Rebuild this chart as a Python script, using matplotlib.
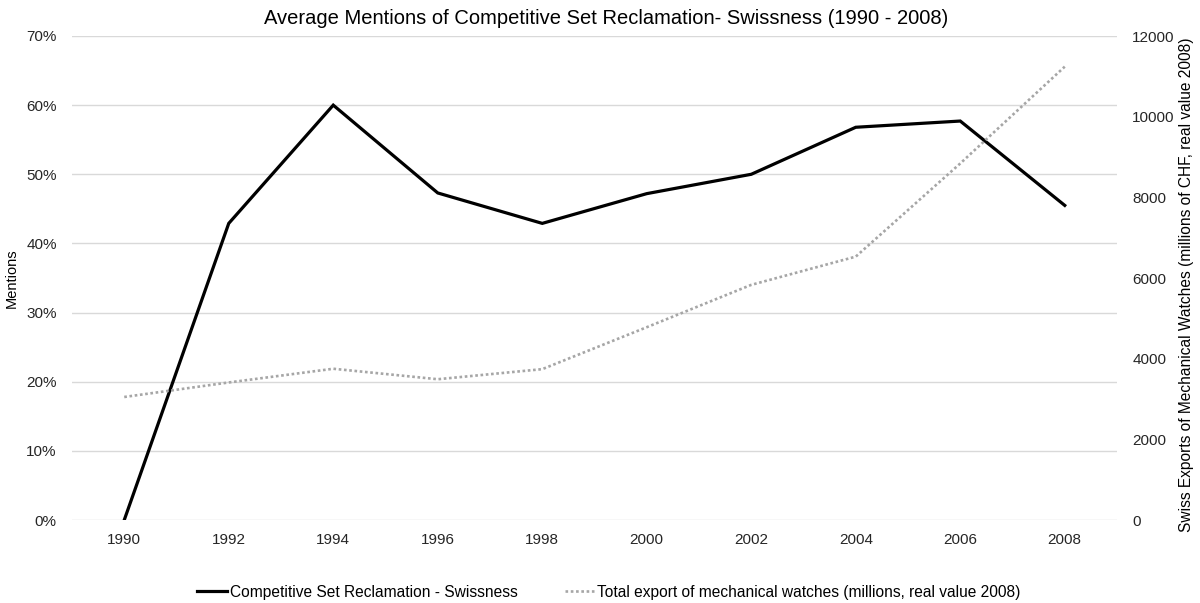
import matplotlib
matplotlib.use("Agg")
import matplotlib.pyplot as plt
from matplotlib.ticker import PercentFormatter, MultipleLocator

plt.rcParams['font.family'] = ['Liberation Sans', 'DejaVu Sans']

# data
years = ['1990', '1992', '1994', '1996', '1998', '2000', '2002', '2004', '2006', '2008']
mentions = [0.0, 0.429, 0.600, 0.473, 0.429, 0.472, 0.500, 0.568, 0.577, 0.455]
exports = [3050, 3410, 3750, 3490, 3740, 4780, 5830, 6530, 8840, 11240]

mentions_label = 'Competitive Set Reclamation - Swissness'
exports_label = 'Total export of mechanical watches (millions, real value 2008)'

fig = plt.figure(figsize=(12, 6.03), dpi=100)
ax = fig.add_axes([72 / 1200, 1 - 520 / 603, (1117 - 72) / 1200, (520 - 36) / 603])
ax2 = ax.twinx()

# left axis: mentions
l1, = ax.plot(years, mentions, color='black', lw=2.3, solid_joinstyle='miter', label=mentions_label)
ax.set_ylim(0, 0.7)
ax.yaxis.set_major_locator(MultipleLocator(0.1))
ax.yaxis.set_major_formatter(PercentFormatter(1.0, decimals=0))
ax.set_xlim(-0.5, len(years) - 0.5)
ax.grid(axis='y', color='#d9d9d9', lw=1)
ax.set_axisbelow(True)

# right axis: exports
l2, = ax2.plot(years, exports, color='#a6a6a6', lw=1.9, linestyle=(0, (1, 1)),
               dash_capstyle='butt', label=exports_label)
ax2.set_ylim(0, 12000)
ax2.yaxis.set_major_locator(MultipleLocator(2000))

for a in (ax, ax2):
    for s in a.spines.values():
        s.set_visible(False)
    a.tick_params(length=0, labelsize=11, colors='#262626')
ax.tick_params(axis='y', pad=11)
ax2.tick_params(axis='y', pad=11)
ax.tick_params(axis='x', pad=9)

# axis titles
fig.text(12 / 1200, 1 - 278 / 603, 'Mentions', rotation=90, ha='center', va='center', fontsize=10.5)
fig.text(1187 / 1200, 1 - 285 / 603,
         'Swiss Exports of Mechanical Watches (millions of CHF, real value 2008)',
         rotation=90, ha='center', va='center', fontsize=11.2)

fig.text(606 / 1200, 1 - 18 / 603, 'Average Mentions of Competitive Set Reclamation- Swissness (1990 - 2008)',
         ha='center', va='center', fontsize=14.5)

fig.legend([l1, l2], [mentions_label, exports_label], loc='center',
           bbox_to_anchor=(609 / 1200, 1 - 592 / 603), ncol=2, frameon=False,
           fontsize=11.2, handlelength=1.9, handletextpad=0.2, columnspacing=3.0)

fig.savefig('out.png', dpi=100)
